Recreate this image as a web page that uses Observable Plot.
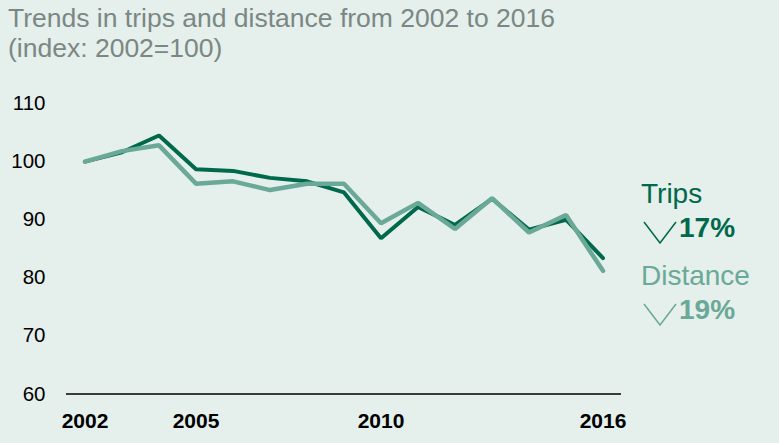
<!DOCTYPE html>
<html>
<head>
<meta charset="utf-8">
<script src="https://cdn.jsdelivr.net/npm/d3@7"></script>
<script src="https://cdn.jsdelivr.net/npm/@observablehq/plot@0.6"></script>
<style>
  html, body { margin: 0; padding: 0; background: #e5efeb; }
  #wrap { position: relative; width: 779px; height: 443px; overflow: hidden; background: #e5efeb;
          font-family: "Liberation Sans", Arial, sans-serif; }
  #title { position: absolute; left: 8px; top: 3px; font-size: 26.5px; line-height: 30px; color: #7b8784; white-space: nowrap; }
  #chart { position: absolute; left: 0; top: 70px; }
  #labels { position: absolute; left: 0; top: 0; }
</style>
</head>
<body>
<div id="wrap">
  <div id="title">Trends in trips and distance from 2002 to 2016<br>(index: 2002=100)</div>
  <div id="chart"></div>
</div>
<script>
const years = [2002, 2003, 2004, 2005, 2006, 2007, 2008, 2009, 2010, 2011, 2012, 2013, 2014, 2015, 2016];
const trips = [100, 101.6, 104.5, 98.7, 98.4, 97.2, 96.6, 94.7, 86.8, 92.2, 89.1, 93.6, 88.3, 90.0, 83.4];
const distance = [100, 101.8, 102.8, 96.2, 96.6, 95.1, 96.2, 96.2, 89.4, 92.9, 88.4, 93.7, 87.8, 90.8, 81.2];
const xTicks = [2002, 2005, 2010, 2016];
const yTicks = [60, 70, 80, 90, 100, 110];
const seriesLabels = [
  {name: "Trips", change: "17%", color: "#00684b"},
  {name: "Distance", change: "19%", color: "#6aa997"}
];

const data = years.map((year, i) => ({year, trips: trips[i], distance: distance[i]}));

const chart = Plot.plot({
  width: 779,
  height: 373,
  marginLeft: 66,
  marginRight: 158,
  marginTop: 33,
  marginBottom: 49.5,
  style: {fontFamily: '"Liberation Sans", Arial, sans-serif', background: "transparent", color: "#000", overflow: "visible"},
  x: {domain: [2001.5, 2016.5]},
  y: {domain: [60, 110]},
  marks: [
    Plot.axisY({ticks: yTicks, tickSize: 0, tickPadding: 21, fontSize: 20.5, label: null}),
    Plot.axisX({ticks: xTicks, tickFormat: "d", tickSize: 0, tickPadding: 19, fontSize: 21, fontWeight: "bold", label: null}),
    Plot.ruleY([60], {stroke: "#000", strokeWidth: 1.5}),
    Plot.line(data, {x: "year", y: "trips", stroke: seriesLabels[0].color, strokeWidth: 4, strokeLinejoin: "miter"}),
    Plot.line(data, {x: "year", y: "distance", stroke: seriesLabels[1].color, strokeWidth: 4.5, strokeLinejoin: "miter"})
  ]
});
document.getElementById("chart").appendChild(chart);

// Series labels on the right
const svg = d3.select("#wrap").append("svg")
  .attr("id", "labels").attr("width", 779).attr("height", 443)
  .style("font-family", '"Liberation Sans", Arial, sans-serif');
const baseY = [203, 285];
seriesLabels.forEach((s, i) => {
  const y0 = baseY[i];
  svg.append("text").attr("x", 641).attr("y", y0).attr("fill", s.color)
    .attr("font-size", 28).text(s.name);
  svg.append("polyline")
    .attr("points", `644,${y0 + 19} 660,${y0 + 40} 676,${y0 + 19}`)
    .attr("fill", "none").attr("stroke", s.color).attr("stroke-width", 1.5);
  svg.append("text").attr("x", 679).attr("y", y0 + 34).attr("fill", s.color)
    .attr("font-size", 28).attr("font-weight", "bold").text(s.change);
});
</script>
</body>
</html>
